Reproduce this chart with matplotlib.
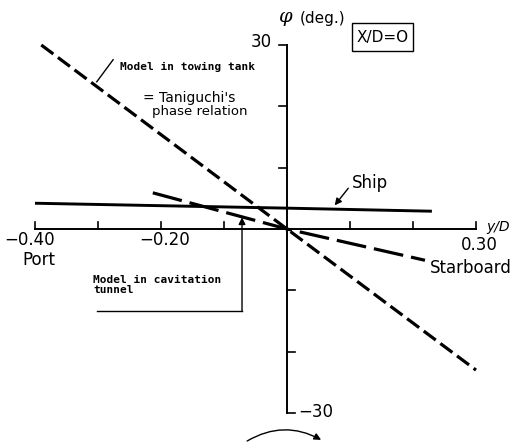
import matplotlib.pyplot as plt
from matplotlib.patches import FancyArrowPatch, Rectangle

# y/D positions and phase angle (deg) of the end points of each curve
ship_y = [-0.40, 0.0, 0.23]
ship_phi = [4.2, 3.4, 2.9]
towing_y = [-0.39, 0.0, 0.30]
towing_phi = [30.0, 0.0, -23.0]
cavitation_y = [-0.213, 0.0, 0.219]
cavitation_phi = [5.9, 0.0, -5.1]

xticks = [-0.40, -0.30, -0.20, -0.10, 0.10, 0.20, 0.30]
yticks = [30, 20, 10, -10, -20, -30]

W, H = 514, 442
X0, Y0 = 287, 229          # pixel position of the origin
SX, SY = 630.0, 368 / 60.0  # pixels per unit y/D, pixels per degree


def main():
    fig = plt.figure(figsize=(W / 100, H / 100), dpi=100)
    ax = fig.add_axes([0, 0, 1, 1])
    ax.set_xlim(-X0 / SX, (W - X0) / SX)
    ax.set_ylim((Y0 - H) / SY, Y0 / SY)
    ax.axis('off')

    lab = dict(family='DejaVu Sans', fontsize=12, color='black')
    mono = dict(family='DejaVu Sans Mono', fontsize=8, weight='bold')

    # axes
    ax.plot([-0.40, 0.30], [0, 0], color='black', lw=1.4)
    ax.plot([0, 0], [-30, 30], color='black', lw=1.4)
    tx = 7 / SY
    for t in xticks:
        ax.plot([t, t], [0, tx], color='black', lw=1.2)
    ty = 8 / SX
    for t in yticks:
        d = -ty if t > 0 else ty
        ax.plot([0, d], [t, t], color='black', lw=1.2)

    # curves
    ax.plot(ship_y, ship_phi, color='black', lw=2.1, solid_capstyle='butt')
    ax.plot(towing_y, towing_phi, color='black', lw=2.3, linestyle=(0, (4.7, 1.8)))
    ax.plot(cavitation_y, cavitation_phi, color='black', lw=2.3, linestyle=(0, (9.4, 2.5)))

    # tick labels
    ax.text(-0.408, -1.8, '\u22120.40', ha='center', va='center', **lab)
    ax.text(-0.195, -1.8, '\u22120.20', ha='center', va='center', **lab)
    ax.text(0.306, -2.6, '0.30', ha='center', va='center', **lab)
    ax.text(-0.024, 30.5, '30', ha='right', va='center', **lab)
    ax.text(0.0175, -29.8, '\u221230', ha='left', va='center', **lab)
    ax.text(-0.394, -5.05, 'Port', ha='center', va='center', **lab)
    ax.text(0.292, -6.4, 'Starboard', ha='center', va='center', **lab)
    ax.text(0.335, 0.4, 'y/D', ha='center', va='center', style='italic',
            family='DejaVu Sans', fontsize=10)

    # axis title and case box
    ax.text(-0.003, 34.6, '\u03c6', ha='center', va='center', style='italic',
            family='DejaVu Serif', fontsize=14)
    ax.text(0.021, 34.4, '(deg.)', ha='left', va='center', family='DejaVu Sans', fontsize=11)
    ax.text(0.151, 31.3, 'X/D=O', ha='center', va='center', family='DejaVu Sans', fontsize=11)
    ax.add_patch(Rectangle(((352 - X0) / SX, (Y0 - 51) / SY), 61 / SX, 28 / SY,
                           fill=False, edgecolor='black', lw=1.0))

    # annotations
    ax.text(-0.265, 26.4, 'Model in towing tank', ha='left', va='center', **mono)
    ax.plot([-0.276, -0.302], [27.6, 24.0], color='black', lw=1.0)
    ax.text(-0.229, 21.4, "= Taniguchi's", ha='left', va='center', family='DejaVu Sans', fontsize=10)
    ax.text(-0.214, 19.1, 'phase relation', ha='left', va='center', family='DejaVu Sans', fontsize=9.5)

    ax.text(0.132, 7.5, 'Ship', ha='center', va='center', **lab)
    ax.annotate('', xy=(0.073, 3.5), xytext=(0.100, 7.0),
                arrowprops=dict(arrowstyle='-|>', color='black', lw=1.0, mutation_scale=10))

    ax.text(-0.308, -9.2, 'Model in cavitation\ntunnel', ha='left', va='center',
            linespacing=1.0, **mono)
    ax.plot([-0.302, -0.0714], [-13.4, -13.4], color='black', lw=1.0)
    ax.annotate('', xy=(-0.0714, 1.9), xytext=(-0.0714, -13.4),
                arrowprops=dict(arrowstyle='-|>', color='black', lw=1.0, mutation_scale=10,
                                shrinkA=0, shrinkB=0))

    # direction of rotation
    ax.add_patch(FancyArrowPatch((-0.067, -34.8), (0.058, -34.6),
                                 connectionstyle='arc3,rad=-0.3', arrowstyle='-|>',
                                 mutation_scale=10, color='black', lw=1.0))

    fig.savefig('out.png', dpi=100)


if __name__ == '__main__':
    main()
